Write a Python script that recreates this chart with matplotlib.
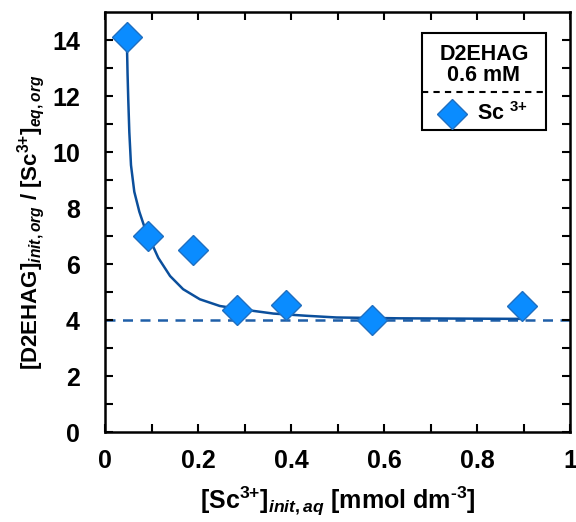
import numpy as np
import matplotlib
matplotlib.use("Agg")
import matplotlib.pyplot as plt
from matplotlib.patches import Rectangle
from matplotlib.lines import Line2D

plt.rcParams['font.family'] = ['Liberation Sans', 'DejaVu Sans']
plt.rcParams['font.weight'] = 'bold'
plt.rcParams['mathtext.fontset'] = 'custom'
plt.rcParams['mathtext.rm'] = 'Liberation Sans:bold'
plt.rcParams['mathtext.bf'] = 'Liberation Sans:bold'
plt.rcParams['mathtext.it'] = 'Liberation Sans:bold:italic'
plt.rcParams['mathtext.default'] = 'rm'

# measured points
sc_init = [0.047, 0.092, 0.19, 0.283, 0.389, 0.574, 0.896]
ratio = [14.1, 7.0, 6.5, 4.37, 4.55, 4.0, 4.5]

# fitted curve
fit_x = [0.047, 0.0475, 0.0485, 0.050, 0.0523, 0.0559, 0.063, 0.0738, 0.0845, 0.0968,
         0.1146, 0.140, 0.168, 0.204, 0.247, 0.290, 0.362, 0.434, 0.498,
         0.634, 0.892]
fit_y = [14.1, 13.6, 12.8, 11.89, 10.71, 9.53, 8.58, 7.87, 7.34, 6.87,
         6.22, 5.57, 5.10, 4.74, 4.50, 4.39, 4.23, 4.15, 4.09,
         4.06, 4.04]

plateau = 4.0

fig = plt.figure(figsize=(5.76, 5.22), dpi=100)
ax = fig.add_axes([105/576, 90/522, 465/576, 420/522])

ax.axhline(plateau, color='#1f5fa8', lw=1.8, ls=(0, (4, 3)), zorder=1)
ax.plot(fit_x, fit_y, color='#0b4f9c', lw=1.8, zorder=2)
ax.plot(sc_init, ratio, ls='none', marker='D', ms=15, mfc='#0a8cff',
        mec='#1f6fc0', mew=1.0, zorder=3)

ax.set_xlim(0, 1)
ax.set_ylim(0, 15)
ax.set_xticks([0, 0.2, 0.4, 0.6, 0.8, 1.0])
ax.set_xticklabels(['0', '0.2', '0.4', '0.6', '0.8', '1'])
ax.set_yticks(np.arange(0, 15, 2))
ax.set_xticks(np.arange(0, 1.01, 0.1), minor=True)
ax.set_yticks(np.arange(0, 15, 1), minor=True)
ax.tick_params(which='both', direction='in', top=True, right=True,
               width=1.5, length=6, labelsize=18)
ax.tick_params(axis='x', which='major', pad=12)
ax.tick_params(axis='y', which='major', pad=18)
for s in ax.spines.values():
    s.set_linewidth(1.8)

ax.set_xlabel(r'[Sc$^{3{+}}$]$_{\mathit{init,aq}}$ [mmol dm$^{\text{-3}}$]',
              fontsize=18, fontweight='bold', labelpad=9)
ax.set_ylabel(r'[D2EHAG]$_{\mathit{init,org}}$ / [Sc$^{3{+}}$]$_{\mathit{eq,org}}$',
              fontsize=16, fontweight='bold', labelpad=4)

# legend box
tr = ax.transAxes
ax.add_patch(Rectangle((0.681, 0.719), 0.267, 0.230, transform=tr,
                       fill=True, fc='white', ec='black', lw=1.5, zorder=5))
ax.add_line(Line2D([0.681, 0.948], [0.810, 0.810], transform=tr,
                   color='black', lw=1.5, ls=(0, (3, 2.5)), zorder=6))
ax.text(0.815, 0.900, 'D2EHAG', transform=tr, ha='center', va='center',
        fontsize=15.5, fontweight='bold', zorder=6)
ax.text(0.815, 0.848, '0.6 mM', transform=tr, ha='center', va='center',
        fontsize=15.5, fontweight='bold', zorder=6)
ax.plot([0.746], [0.756], transform=tr, ls='none', marker='D', ms=15,
        mfc='#0a8cff', mec='#1f6fc0', mew=1.0, zorder=6, clip_on=False)
ax.text(0.800, 0.758, r'Sc $^{3{+}}$', transform=tr, ha='left', va='center',
        fontsize=15.5, fontweight='bold', zorder=6)

fig.savefig('out.png', dpi=100)
